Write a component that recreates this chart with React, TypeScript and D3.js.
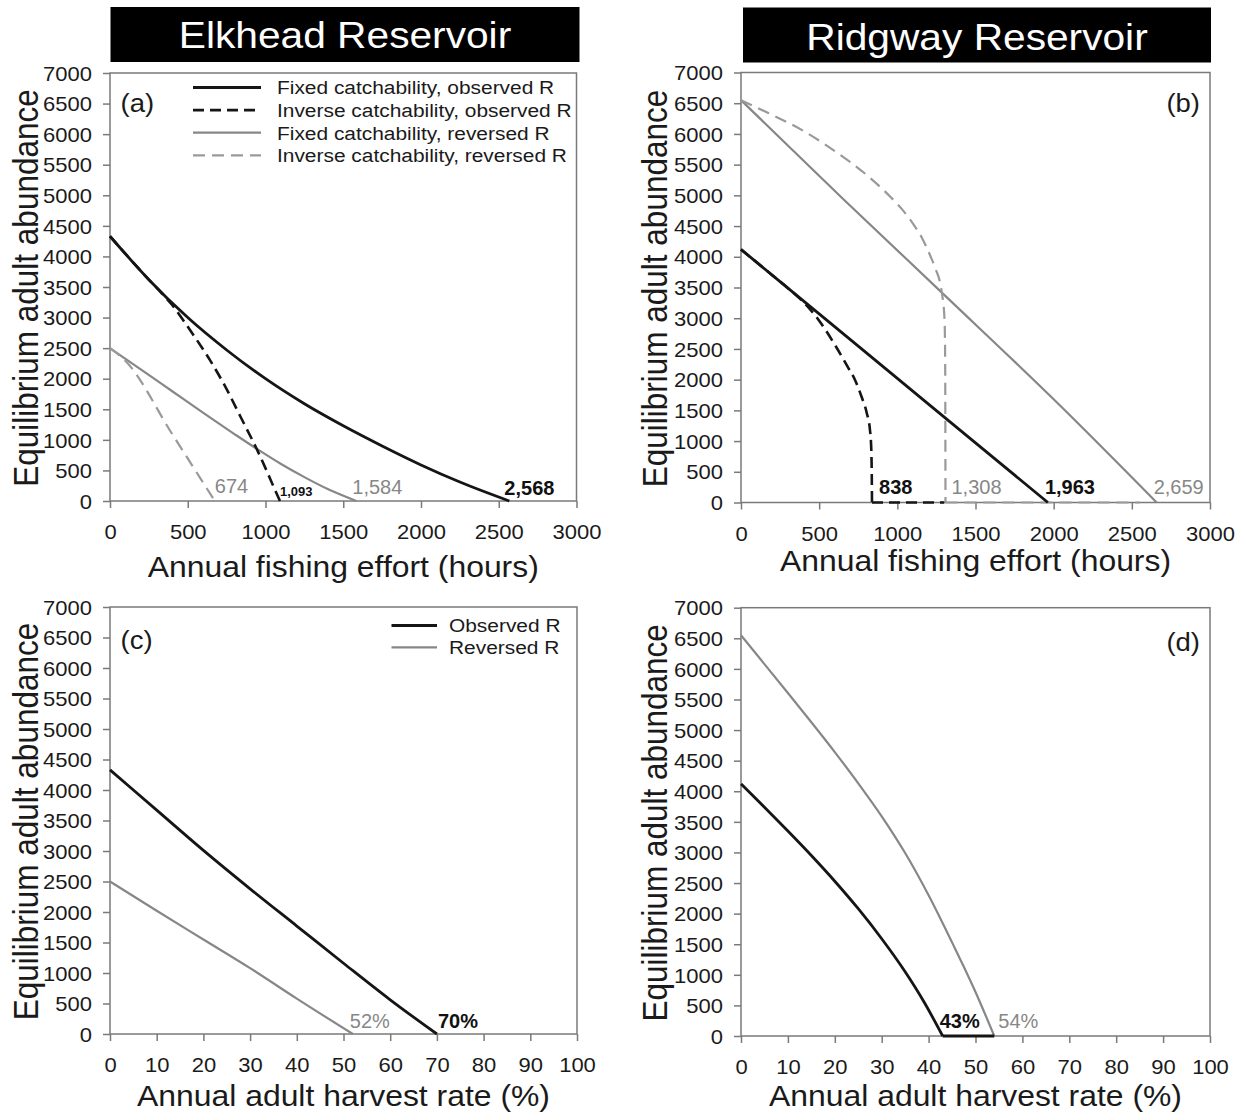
import React, { useEffect, useRef } from 'react';
import * as d3 from 'd3';

const FONT = '"Liberation Sans", Arial, Helvetica, sans-serif';
const SX = 1.1; // the scanned figure is a little wider than tall

// tick values
const abundanceTicks = [0, 500, 1000, 1500, 2000, 2500, 3000, 3500, 4000, 4500, 5000, 5500, 6000, 6500, 7000];
const effortTicks = [0, 500, 1000, 1500, 2000, 2500, 3000];
const rateTicks = [0, 10, 20, 30, 40, 50, 60, 70, 80, 90, 100];

const reservoirs = ['Elkhead Reservoir', 'Ridgway Reservoir'];
const yTitle = 'Equilibrium adult abundance';
const effortTitle = 'Annual fishing effort (hours)';
const rateTitle = 'Annual adult harvest rate (%)';
const panelTags = ['(a)', '(b)', '(c)', '(d)'];

const effortLegend = [
  'Fixed catchability, observed R',
  'Inverse catchability, observed R',
  'Fixed catchability, reversed R',
  'Inverse catchability, reversed R',
];
const rateLegend = ['Observed R', 'Reversed R'];

// (a) Elkhead, effort
const aFixObsX = [0, 250, 500, 750, 1000, 1250, 1500, 1750, 2000, 2250, 2568];
const aFixObsN = [4330, 3620, 3000, 2470, 2000, 1590, 1230, 900, 590, 310, 0];
const aInvObsX = [0, 250, 330, 400, 470, 546, 644, 750, 837, 953, 1009, 1050, 1093];
const aInvObsN = [4330, 3620, 3405, 3205, 2960, 2680, 2300, 1830, 1390, 800, 485, 245, 0];
const aFixRevX = [0, 200, 400, 600, 800, 955, 1100, 1250, 1400, 1584];
const aFixRevN = [2500, 2150, 1795, 1440, 1095, 835, 605, 390, 195, 0];
const aInvRevX = [0, 100, 400, 674];
const aInvRevN = [2500, 2290, 1095, 0];

// (b) Ridgway, effort (inverse-catchability runs stay at zero past their end point)
const bFixObsX = [0, 500, 1000, 1500, 1963];
const bFixObsN = [4120, 3070, 2020, 970, 0];
const bInvObsX = [0, 200, 300, 400, 500, 602, 680, 730, 770, 804, 825, 832, 836, 838, 1300];
const bInvObsN = [4120, 3700, 3490, 3260, 2960, 2560, 2220, 1990, 1730, 1462, 1180, 950, 550, 0, 0];
const bFixRevX = [0, 650, 1300, 2000, 2659];
const bFixRevN = [6550, 4950, 3380, 1680, 0];
const bInvRevX = [0, 175, 388, 600, 815, 950, 1028, 1100, 1157, 1210, 1242, 1285, 1302, 1306, 1308, 2550];
const bInvRevN = [6550, 6340, 6066, 5720, 5308, 4990, 4780, 4540, 4310, 4020, 3820, 3412, 2979, 2300, 0, 0];

// (c) Elkhead, harvest rate
const cObsX = [0, 10, 20, 30, 40, 50, 60, 70];
const cObsN = [4330, 3670, 3010, 2380, 1770, 1160, 560, 0];
const cRevX = [0, 10, 20, 30, 40, 52];
const cRevN = [2500, 2020, 1550, 1080, 580, 0];

// (d) Ridgway, harvest rate
const dObsX = [0, 5, 10, 15, 20, 25, 30, 35, 39, 43, 54];
const dObsN = [4120, 3740, 3350, 2950, 2530, 2080, 1590, 1050, 560, 0, 0];
const dRevX = [0, 10, 20, 25, 30, 35, 40, 45, 50, 54];
const dRevN = [6550, 5605, 4640, 4130, 3590, 2990, 2300, 1530, 720, 0];

// end-point labels
const aEnds = [674, 1093, 1584, 2568];
const bEnds = [838, 1308, 1963, 2659];
const cEnds = [52, 70];
const dEnds = [43, 54];

const BLACK = '#151515';
const GREY = '#878787';
const GREY_D = '#9a9a9a';
const AXIS = '#7a7a7a';

const styles: any = {
  fixObs: { stroke: BLACK, width: 2.8, dash: null },
  invObs: { stroke: BLACK, width: 2.6, dash: '11,6' },
  fixRev: { stroke: GREY, width: 2.2, dash: null },
  invRev: { stroke: GREY_D, width: 2.2, dash: '12,7' },
};

const zip = (xs: number[], ys: number[]) => xs.map((x, i) => [x, ys[i]] as [number, number]);

function stretchedText(g: any, x: number, y: number, txt: string, size: number, opts: any = {}) {
  return g.append('text')
    .attr('transform', `translate(${x},${y}) scale(${opts.sx ?? SX},1)${opts.rotate ? ' rotate(-90)' : ''}`)
    .attr('text-anchor', opts.anchor || 'start')
    .attr('font-size', size)
    .attr('font-weight', opts.bold ? 'bold' : 'normal')
    .attr('fill', opts.fill || '#1a1a1a')
    .attr('dy', opts.dy || null)
    .text(txt);
}

function drawPanel(svg: any, p: any) {
  const x = d3.scaleLinear().domain(p.xDomain).range([p.x0, p.x1]);
  const y = d3.scaleLinear().domain([0, 7000]).range([p.y0, p.yTop]);
  const g = svg.append('g').attr('font-family', FONT);

  // frame
  g.append('rect')
    .attr('x', p.x0).attr('y', p.yTop)
    .attr('width', p.x1 - p.x0).attr('height', p.y0 - p.yTop)
    .attr('fill', 'none').attr('stroke', AXIS).attr('stroke-width', 1.5);

  // y axis
  const gy = g.append('g')
    .attr('transform', `translate(${p.x0},0)`)
    .call(d3.axisLeft(y).tickValues(abundanceTicks).tickSize(7).tickSizeOuter(0).tickFormat(d3.format('d')));
  gy.attr('font-family', FONT).attr('font-size', 20);
  gy.select('.domain').remove();
  gy.selectAll('line').attr('stroke', AXIS).attr('stroke-width', 1.5);
  gy.selectAll('text')
    .attr('x', null).attr('dy', '0.36em')
    .attr('transform', `translate(-18,0) scale(${SX},1)`)
    .attr('fill', '#1a1a1a');

  // x axis
  const gx = g.append('g')
    .attr('transform', `translate(0,${p.y0})`)
    .call(d3.axisBottom(x).tickValues(p.ticks).tickSize(7).tickSizeOuter(0).tickFormat(d3.format('d')));
  gx.attr('font-family', FONT).attr('font-size', 20);
  gx.select('.domain').remove();
  gx.selectAll('line').attr('stroke', AXIS).attr('stroke-width', 1.5);
  gx.selectAll('text')
    .attr('y', null).attr('dy', null)
    .attr('transform', `translate(0,38) scale(${SX},1)`)
    .attr('fill', '#1a1a1a');

  // lines: smooth part down to the first zero, straight run along the axis after it
  const smooth = d3.line<[number, number]>()
    .x(d => x(d[0]))
    .y(d => y(d[1]))
    .curve(d3.curveMonotoneX);
  const straight = d3.line<[number, number]>()
    .x(d => x(d[0]))
    .y(d => y(d[1]));
  p.series.forEach((s: any) => {
    const st = styles[s.kind];
    const pts = zip(s.x, s.y);
    const z = s.y.indexOf(0);
    const parts = [
      { d: pts.slice(0, z + 1), gen: smooth },
      { d: pts.slice(z), gen: straight },
    ];
    parts.forEach(part => {
      if (part.d.length < 2) return;
      g.append('path')
        .datum(part.d)
        .attr('fill', 'none')
        .attr('stroke', st.stroke)
        .attr('stroke-width', st.width)
        .attr('stroke-dasharray', st.dash)
        .attr('stroke-linejoin', 'round')
        .attr('d', part.gen);
    });
  });

  // end-point labels
  p.ends.forEach((e: any) => {
    stretchedText(g, x(e.value) + e.dx, e.base, e.text, e.size || 20, {
      sx: 1, bold: e.bold, fill: e.bold ? '#111' : GREY,
    });
  });

  // panel tag
  stretchedText(g, p.tagX, p.tagY, p.tag, 25, { anchor: p.tagAnchor });

  // axis titles
  stretchedText(g, p.yTitleX, (p.yTop + p.y0) / 2 + 1, yTitle, 31.5, { anchor: 'middle', rotate: true });
  stretchedText(g, (p.x0 + p.x1) / 2, p.xTitleY, p.xTitle, 29, { anchor: 'middle' });

  // legend
  if (p.legend) {
    p.legend.items.forEach((it: any, i: number) => {
      const st = styles[it.kind];
      const ly = p.legend.y + i * p.legend.step;
      g.append('line')
        .attr('x1', p.legend.x1).attr('x2', p.legend.x2)
        .attr('y1', ly).attr('y2', ly)
        .attr('stroke', st.stroke).attr('stroke-width', st.width)
        .attr('stroke-dasharray', st.dash);
      stretchedText(g, p.legend.tx, ly, it.label, 19, { dy: '0.36em' });
    });
  }
}

function titleBar(svg: any, x1: number, x2: number, y1: number, y2: number, base: number, txt: string) {
  svg.append('rect')
    .attr('x', x1).attr('y', y1).attr('width', x2 - x1).attr('height', y2 - y1)
    .attr('fill', '#000');
  svg.append('text')
    .attr('font-family', FONT)
    .attr('transform', `translate(${(x1 + x2) / 2},${base}) scale(${SX},1)`)
    .attr('text-anchor', 'middle')
    .attr('font-size', 37)
    .attr('fill', '#fff')
    .text(txt);
}

const fmt = d3.format(',');

export default function App() {
  const ref = useRef<SVGSVGElement>(null);

  useEffect(() => {
    const svg = d3.select(ref.current);
    svg.selectAll('*').remove();
    svg.append('rect').attr('width', 1246).attr('height', 1120).attr('fill', '#fff');

    titleBar(svg, 110.5, 579.5, 7, 62, 47.5, reservoirs[0]);
    titleBar(svg, 743, 1211, 7.5, 62.5, 49.5, reservoirs[1]);

    const panels = [
      {
        xDomain: [0, 3000], ticks: effortTicks, x0: 110, x1: 576.5, yTop: 73, y0: 501,
        tag: panelTags[0], tagX: 120.5, tagY: 111.5, tagAnchor: 'start',
        yTitleX: 37.5, xTitle: effortTitle, xTitleY: 577,
        series: [
          { kind: 'fixRev', x: aFixRevX, y: aFixRevN },
          { kind: 'invRev', x: aInvRevX, y: aInvRevN },
          { kind: 'fixObs', x: aFixObsX, y: aFixObsN },
          { kind: 'invObs', x: aInvObsX, y: aInvObsN },
        ],
        ends: [
          { value: aEnds[0], text: fmt(aEnds[0]), dx: 0, base: 493 },
          { value: aEnds[1], text: fmt(aEnds[1]), dx: 0, base: 496, bold: true, size: 13 },
          { value: aEnds[2], text: fmt(aEnds[2]), dx: -4, base: 494 },
          { value: aEnds[3], text: fmt(aEnds[3]), dx: -5, base: 495, bold: true },
        ],
        legend: {
          x1: 193, x2: 261, tx: 277, y: 87.5, step: 22.6,
          items: [
            { kind: 'fixObs', label: effortLegend[0] },
            { kind: 'invObs', label: effortLegend[1] },
            { kind: 'fixRev', label: effortLegend[2] },
            { kind: 'invRev', label: effortLegend[3] },
          ],
        },
      },
      {
        xDomain: [0, 3000], ticks: effortTicks, x0: 741, x1: 1210, yTop: 72.5, y0: 502.5,
        tag: panelTags[1], tagX: 1200, tagY: 111.5, tagAnchor: 'end',
        yTitleX: 667, xTitle: effortTitle, xTitleY: 571,
        series: [
          { kind: 'fixRev', x: bFixRevX, y: bFixRevN },
          { kind: 'invRev', x: bInvRevX, y: bInvRevN },
          { kind: 'fixObs', x: bFixObsX, y: bFixObsN },
          { kind: 'invObs', x: bInvObsX, y: bInvObsN },
        ],
        ends: [
          { value: bEnds[0], text: fmt(bEnds[0]), dx: 7, base: 494, bold: true },
          { value: bEnds[1], text: fmt(bEnds[1]), dx: 6, base: 494 },
          { value: bEnds[2], text: fmt(bEnds[2]), dx: -3, base: 494, bold: true },
          { value: bEnds[3], text: fmt(bEnds[3]), dx: -3, base: 494 },
        ],
      },
      {
        xDomain: [0, 100], ticks: rateTicks, x0: 110, x1: 577, yTop: 607, y0: 1034,
        tag: panelTags[2], tagX: 120.5, tagY: 648.5, tagAnchor: 'start',
        yTitleX: 37.5, xTitle: rateTitle, xTitleY: 1106,
        series: [
          { kind: 'fixRev', x: cRevX, y: cRevN },
          { kind: 'fixObs', x: cObsX, y: cObsN },
        ],
        ends: [
          { value: cEnds[0], text: cEnds[0] + '%', dx: -3, base: 1028 },
          { value: cEnds[1], text: cEnds[1] + '%', dx: 1, base: 1028, bold: true },
        ],
        legend: {
          x1: 391.5, x2: 437, tx: 449, y: 625.5, step: 21.8,
          items: [
            { kind: 'fixObs', label: rateLegend[0] },
            { kind: 'fixRev', label: rateLegend[1] },
          ],
        },
      },
      {
        xDomain: [0, 100], ticks: rateTicks, x0: 741, x1: 1210, yTop: 607.7, y0: 1036,
        tag: panelTags[3], tagX: 1200, tagY: 650.5, tagAnchor: 'end',
        yTitleX: 667, xTitle: rateTitle, xTitleY: 1106,
        series: [
          { kind: 'fixRev', x: dRevX, y: dRevN },
          { kind: 'fixObs', x: dObsX, y: dObsN },
        ],
        ends: [
          { value: dEnds[0], text: dEnds[0] + '%', dx: -3, base: 1028, bold: true },
          { value: dEnds[1], text: dEnds[1] + '%', dx: 4, base: 1028 },
        ],
      },
    ];

    panels.forEach(p => drawPanel(svg, p));
  }, []);

  return (
    <svg
      ref={ref}
      width={1246}
      height={1120}
      style={{ position: 'absolute', left: 0, top: 0, display: 'block' }}
    />
  );
}
